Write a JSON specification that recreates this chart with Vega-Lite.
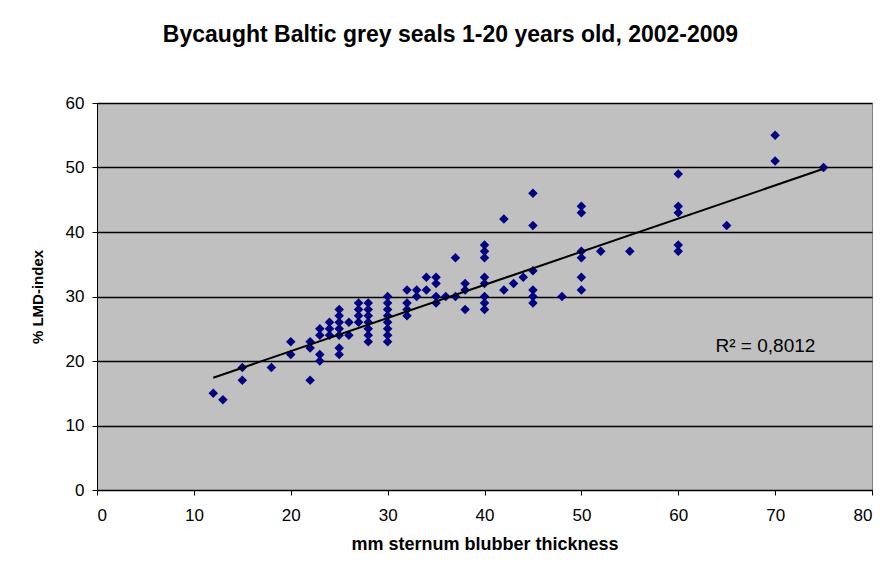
{
  "$schema": "https://vega.github.io/schema/vega-lite/v6.json",
  "width": 775,
  "height": 387,
  "autosize": {"type": "none"},
  "padding": {"left": 97, "top": 103, "right": 13, "bottom": 91},
  "background": "white",
  "title": {
    "text": "Bycaught Baltic grey seals 1-20 years old, 2002-2009",
    "font": "Liberation Sans",
    "fontSize": 23,
    "fontWeight": "bold",
    "color": "#000000",
    "anchor": "middle",
    "frame": "group",
    "dx": -34,
    "offset": 47
  },
  "config": {
    "view": {"fill": "#c0c0c0", "stroke": "#808080", "strokeWidth": 1},
    "axis": {
      "labelFont": "Liberation Sans",
      "labelFontSize": 17,
      "labelColor": "#000000",
      "titleFont": "Liberation Sans",
      "titleFontWeight": "bold",
      "titleColor": "#000000",
      "domainColor": "#000000",
      "tickColor": "#000000",
      "tickSize": 5
    }
  },
  "datasets": {
    "trend": [{"x": 12, "y": 17.4}, {"x": 75, "y": 49.8}],
    "note": [{"x": 69, "y": 22.3, "label": "R² = 0,8012"}]
  },
  "data": {
    "values": [
      {"x": 12, "y": 15}, {"x": 13, "y": 14},
      {"x": 15, "y": 19}, {"x": 15, "y": 17},
      {"x": 18, "y": 19},
      {"x": 20, "y": 23}, {"x": 20, "y": 21},
      {"x": 22, "y": 23}, {"x": 22, "y": 22}, {"x": 22, "y": 17},
      {"x": 23, "y": 25}, {"x": 23, "y": 24}, {"x": 23, "y": 21}, {"x": 23, "y": 20},
      {"x": 24, "y": 26}, {"x": 24, "y": 25}, {"x": 24, "y": 24},
      {"x": 25, "y": 28}, {"x": 25, "y": 27}, {"x": 25, "y": 26}, {"x": 25, "y": 25}, {"x": 25, "y": 24}, {"x": 25, "y": 22}, {"x": 25, "y": 21},
      {"x": 26, "y": 26}, {"x": 26, "y": 24},
      {"x": 27, "y": 29}, {"x": 27, "y": 28}, {"x": 27, "y": 27}, {"x": 27, "y": 26},
      {"x": 28, "y": 29}, {"x": 28, "y": 28}, {"x": 28, "y": 27}, {"x": 28, "y": 26}, {"x": 28, "y": 25}, {"x": 28, "y": 24}, {"x": 28, "y": 23},
      {"x": 30, "y": 30}, {"x": 30, "y": 29}, {"x": 30, "y": 28}, {"x": 30, "y": 27}, {"x": 30, "y": 26}, {"x": 30, "y": 25}, {"x": 30, "y": 24}, {"x": 30, "y": 23},
      {"x": 32, "y": 31}, {"x": 32, "y": 29}, {"x": 32, "y": 28}, {"x": 32, "y": 27},
      {"x": 33, "y": 31}, {"x": 33, "y": 30},
      {"x": 34, "y": 33}, {"x": 34, "y": 31},
      {"x": 35, "y": 33}, {"x": 35, "y": 32}, {"x": 35, "y": 30}, {"x": 35, "y": 29},
      {"x": 36, "y": 30},
      {"x": 37, "y": 36}, {"x": 37, "y": 30},
      {"x": 38, "y": 32}, {"x": 38, "y": 31}, {"x": 38, "y": 28},
      {"x": 40, "y": 38}, {"x": 40, "y": 37}, {"x": 40, "y": 36}, {"x": 40, "y": 33}, {"x": 40, "y": 32}, {"x": 40, "y": 30}, {"x": 40, "y": 29}, {"x": 40, "y": 28},
      {"x": 42, "y": 42}, {"x": 42, "y": 31},
      {"x": 43, "y": 32},
      {"x": 44, "y": 33},
      {"x": 45, "y": 46}, {"x": 45, "y": 41}, {"x": 45, "y": 34}, {"x": 45, "y": 31}, {"x": 45, "y": 30}, {"x": 45, "y": 29},
      {"x": 48, "y": 30},
      {"x": 50, "y": 44}, {"x": 50, "y": 43}, {"x": 50, "y": 37}, {"x": 50, "y": 36}, {"x": 50, "y": 33}, {"x": 50, "y": 31},
      {"x": 52, "y": 37},
      {"x": 55, "y": 37},
      {"x": 60, "y": 49}, {"x": 60, "y": 44}, {"x": 60, "y": 43}, {"x": 60, "y": 38}, {"x": 60, "y": 37},
      {"x": 65, "y": 41},
      {"x": 70, "y": 55}, {"x": 70, "y": 51},
      {"x": 75, "y": 50}
    ]
  },
  "layer": [
    {
      "mark": {"type": "point", "shape": "diamond", "filled": true, "color": "#000080", "size": 90, "opacity": 1},
      "encoding": {
        "x": {
          "field": "x", "type": "quantitative",
          "scale": {"domain": [0, 80], "nice": false},
          "axis": {"title": "mm sternum blubber thickness", "titleFontSize": 18, "values": [0, 10, 20, 30, 40, 50, 60, 70, 80], "grid": false, "labelPadding": 12, "titlePadding": 12}
        },
        "y": {
          "field": "y", "type": "quantitative",
          "scale": {"domain": [0, 60], "nice": false},
          "axis": {"title": "% LMD-index", "titleFontSize": 15, "values": [0, 10, 20, 30, 40, 50, 60], "grid": true, "gridColor": "#000000", "gridWidth": 1.5, "gridOpacity": 1, "labelPadding": 8, "titlePadding": 20}
        }
      }
    },
    {
      "data": {"name": "trend"},
      "mark": {"type": "line", "color": "#000000", "strokeWidth": 2},
      "encoding": {
        "x": {"field": "x", "type": "quantitative"},
        "y": {"field": "y", "type": "quantitative"}
      }
    },
    {
      "data": {"name": "note"},
      "mark": {"type": "text", "font": "Liberation Sans", "fontSize": 19, "color": "#000000", "align": "center", "baseline": "middle"},
      "encoding": {
        "x": {"field": "x", "type": "quantitative"},
        "y": {"field": "y", "type": "quantitative"},
        "text": {"field": "label"}
      }
    }
  ]
}
